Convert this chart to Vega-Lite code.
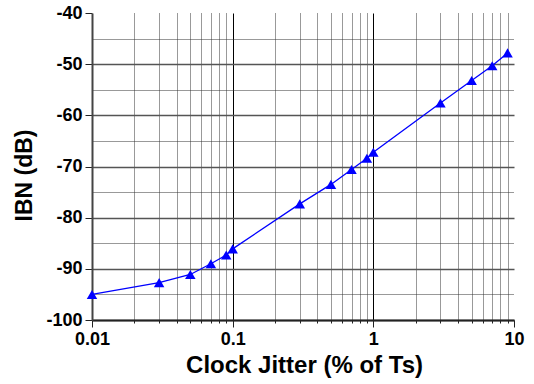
{
  "$schema": "https://vega.github.io/schema/vega-lite/v6.json",
  "width": 422,
  "height": 307,
  "autosize": {"type": "none"},
  "padding": {"left": 92, "top": 13, "right": 20, "bottom": 64},
  "background": "white",
  "config": {"view": {"stroke": null}},
  "data": {
    "values": [
      {"jitter": 0.01, "ibn": -95.0},
      {"jitter": 0.03, "ibn": -92.7},
      {"jitter": 0.05, "ibn": -91.1},
      {"jitter": 0.07, "ibn": -89.0},
      {"jitter": 0.09, "ibn": -87.3},
      {"jitter": 0.1, "ibn": -86.1},
      {"jitter": 0.3, "ibn": -77.3},
      {"jitter": 0.5, "ibn": -73.5},
      {"jitter": 0.7, "ibn": -70.6},
      {"jitter": 0.9, "ibn": -68.4},
      {"jitter": 1, "ibn": -67.2},
      {"jitter": 3, "ibn": -57.6},
      {"jitter": 5, "ibn": -53.2},
      {"jitter": 7, "ibn": -50.3},
      {"jitter": 9, "ibn": -47.8}
    ]
  },
  "encoding": {
    "x": {
      "field": "jitter",
      "type": "quantitative",
      "scale": {"type": "log", "domain": [0.01, 10]},
      "axis": {
        "values": [0.01, 0.02, 0.03, 0.04, 0.05, 0.06, 0.07, 0.08, 0.09, 0.1, 0.2, 0.3, 0.4, 0.5, 0.6, 0.7, 0.8, 0.9, 1, 2, 3, 4, 5, 6, 7, 8, 9, 10],
        "title": "Clock Jitter (% of Ts)",
        "titleFont": "Liberation Sans",
        "titleFontSize": 24,
        "titleFontWeight": "bold",
        "titleColor": "black",
        "titleBaseline": "alphabetic",
        "titleX": 212,
        "titleY": 52,
        "labelFont": "Liberation Sans",
        "labelFontSize": 18,
        "labelFontWeight": "bold",
        "labelColor": "black",
        "labelExpr": "indexof([0.01, 0.1, 1, 10], datum.value) >= 0 ? toString(datum.value) : ''",
        "labelOverlap": false,
        "labelFlush": false,
        "labelPadding": 3,
        "domainColor": "#222222",
        "domainWidth": 2,
        "tickColor": "#222222",
        "tickWidth": 1,
        "tickSize": {"condition": {"test": "indexof([0.01, 0.1, 1, 10], datum.value) >= 0", "value": 7}, "value": 3},
        "grid": true,
        "gridColor": {"condition": {"test": "indexof([0.01, 0.1, 1, 10], datum.value) >= 0", "value": "#000000"}, "value": "#333333"},
        "gridWidth": 1,
        "gridDash": {"condition": {"test": "indexof([0.01, 0.1, 1, 10], datum.value) >= 0", "value": []}, "value": [1, 1]},
        "gridOpacity": {"condition": {"test": "datum.value == 0.01 || datum.value == 10", "value": 0}, "value": 1}
      }
    },
    "y": {
      "field": "ibn",
      "type": "quantitative",
      "scale": {"domain": [-100, -40], "nice": false, "zero": false},
      "axis": {
        "values": [-100, -95, -90, -85, -80, -75, -70, -65, -60, -55, -50, -45, -40],
        "title": "IBN (dB)",
        "titleFont": "Liberation Sans",
        "titleFontSize": 23,
        "titleFontWeight": "bold",
        "titleColor": "black",
        "titleBaseline": "alphabetic",
        "titleX": -61,
        "titleY": 162,
        "labelFont": "Liberation Sans",
        "labelFontSize": 18,
        "labelFontWeight": "bold",
        "labelColor": "black",
        "labelExpr": "datum.value % 10 == 0 ? toString(datum.value) : ''",
        "labelOverlap": false,
        "labelPadding": 3,
        "domainColor": "#444444",
        "domainWidth": 2,
        "tickColor": "#222222",
        "tickWidth": 1,
        "tickSize": 7,
        "tickOpacity": {"condition": {"test": "datum.value % 10 == 0", "value": 1}, "value": 0},
        "grid": true,
        "gridColor": {"condition": {"test": "datum.value % 10 == 0", "value": "#555555"}, "value": "#333333"},
        "gridWidth": {"condition": {"test": "datum.value % 10 == 0", "value": 1.5}, "value": 1},
        "gridDash": {"condition": {"test": "datum.value % 10 == 0", "value": []}, "value": [1, 1]},
        "gridOpacity": {"condition": {"test": "datum.value == -40", "value": 0}, "value": 1}
      }
    }
  },
  "layer": [
    {"mark": {"type": "line", "color": "#0000ff", "strokeWidth": 1.3}},
    {"mark": {"type": "point", "shape": "triangle-up", "filled": true, "color": "#0000ff", "size": 110, "opacity": 1}}
  ]
}
